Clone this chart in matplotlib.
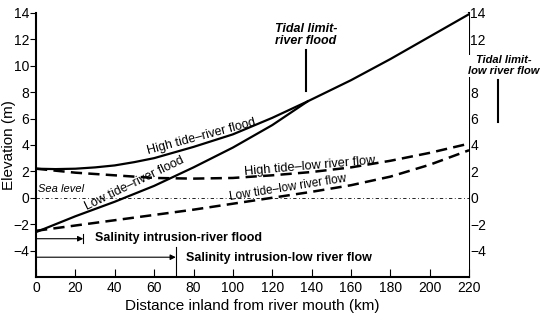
import matplotlib
matplotlib.use('Agg')
import matplotlib.pyplot as plt

plt.rcParams['font.family'] = ['Liberation Sans', 'DejaVu Sans']

# distance inland (km) and elevation (m)
x_hf = [0, 10, 20, 30, 40, 50, 60, 80, 100, 120, 138, 160, 180, 200, 220]
high_flood = [2.2, 2.17, 2.2, 2.3, 2.45, 2.7, 3.0, 3.85, 4.8, 6.05, 7.3, 8.9, 10.5, 12.2, 13.9]

x_lf = [0, 20, 40, 60, 80, 100, 120, 138]
low_flood = [-2.6, -1.4, -0.3, 0.9, 2.3, 3.8, 5.5, 7.3]

x_low = [0, 20, 40, 60, 80, 100, 120, 140, 160, 180, 200, 220]
high_lowflow = [2.2, 1.9, 1.7, 1.5, 1.45, 1.5, 1.7, 1.95, 2.3, 2.8, 3.4, 4.1]
low_lowflow = [-2.5, -2.1, -1.7, -1.3, -0.9, -0.45, 0.0, 0.45, 0.95, 1.6, 2.5, 3.6]

sal_flood = 24
sal_low = 71
tidal_flood = 137

xticks = list(range(0, 221, 20))
yticks = list(range(-4, 15, 2))
yticks_right = [-4, -2, 0, 2, 4, 6, 8, 12, 14]

fig = plt.figure(figsize=(5.4, 3.21), dpi=100)
ax = fig.add_axes([0.0667, 0.137, 0.802, 0.823])

ax.plot(x_hf, high_flood, color='black', lw=1.6)
ax.plot(x_lf, low_flood, color='black', lw=1.6)
ax.plot(x_low, high_lowflow, color='black', lw=1.8, dashes=(4.5, 2.5))
ax.plot(x_low, low_lowflow, color='black', lw=1.8, dashes=(4.5, 2.5))
ax.plot([0, 220], [0, 0], color='black', lw=0.6, dashes=(4, 3, 1, 3))

# salinity arrows
ax.annotate('', xy=(sal_flood, -3.1), xytext=(0, -3.1),
            arrowprops=dict(arrowstyle='-|>', color='black', lw=0.8, mutation_scale=8, shrinkA=0, shrinkB=0))
ax.plot([sal_flood, sal_flood], [-3.45, -2.75], color='black', lw=0.8)
ax.annotate('', xy=(sal_low, -4.5), xytext=(0, -4.5),
            arrowprops=dict(arrowstyle='-|>', color='black', lw=0.8, mutation_scale=8, shrinkA=0, shrinkB=0))
ax.plot([sal_low, sal_low], [-6, -3.7], color='black', lw=0.8)
ax.text(30, -3.05, 'Salinity intrusion-river flood', fontsize=9, fontweight='bold', va='center')
ax.text(76, -4.55, 'Salinity intrusion-low river flow', fontsize=9, fontweight='bold', va='center')

# curve labels
ax.text(84, 4.65, 'High tide\u2013river flood', fontsize=9, rotation=15, ha='center', va='center')
ax.text(50, 1.05, 'Low tide\u2013river flood', fontsize=9, rotation=26, ha='center', va='center')
ax.text(139, 2.35, 'High tide\u2013low river flow', fontsize=9.2, rotation=5, ha='center', va='center')
ax.text(128, 0.75, 'Low tide\u2013low river flow', fontsize=8.5, rotation=9, ha='center', va='center')
ax.text(1.2, 0.65, 'Sea level', fontsize=8, style='italic', va='center')

# tidal limits
ax.plot([tidal_flood, tidal_flood], [8.1, 11.2], color='black', lw=1.5)
ax.text(tidal_flood, 12.3, 'Tidal limit-\nriver flood', fontsize=9, fontweight='bold', style='italic',
        ha='center', va='center', linespacing=1.0)
ax.plot([234.5, 234.5], [5.7, 8.9], color='black', lw=1.5, clip_on=False)
ax.text(237.5, 10.0, 'Tidal limit-\nlow river flow', fontsize=8, fontweight='bold', style='italic',
        ha='center', va='center', linespacing=1.05, clip_on=False, zorder=10,
        bbox=dict(facecolor='white', edgecolor='none', pad=0.5))

ax.set_xlim(0, 220)
ax.set_ylim(-6, 14)
ax.set_xticks(xticks)
ax.set_yticks(yticks)
ax.tick_params(axis='x', direction='in', length=6, labelsize=10, pad=3)
ax.tick_params(axis='y', direction='out', length=4, labelsize=10, pad=1)
ax.spines['top'].set_visible(False)
ax.spines['right'].set_visible(False)
for s in ['left', 'bottom']:
    ax.spines[s].set_linewidth(1.5)
ax.set_xlabel('Distance inland from river mouth (km)', fontsize=11, labelpad=3)
ax.set_ylabel('Elevation (m)', fontsize=11)
ax.yaxis.set_label_coords(-0.046, 0.5)

ax2 = ax.twinx()
ax2.set_ylim(-6, 14)
ax2.set_yticks(yticks_right)
ax2.tick_params(axis='y', direction='in', length=4, labelsize=10, pad=1)
ax2.spines['top'].set_visible(False)
ax2.spines['right'].set_linewidth(1.5)
ax2.spines['left'].set_visible(False)
ax2.spines['bottom'].set_visible(False)
ax2.set_zorder(-1)

fig.savefig('out.png', dpi=100)
